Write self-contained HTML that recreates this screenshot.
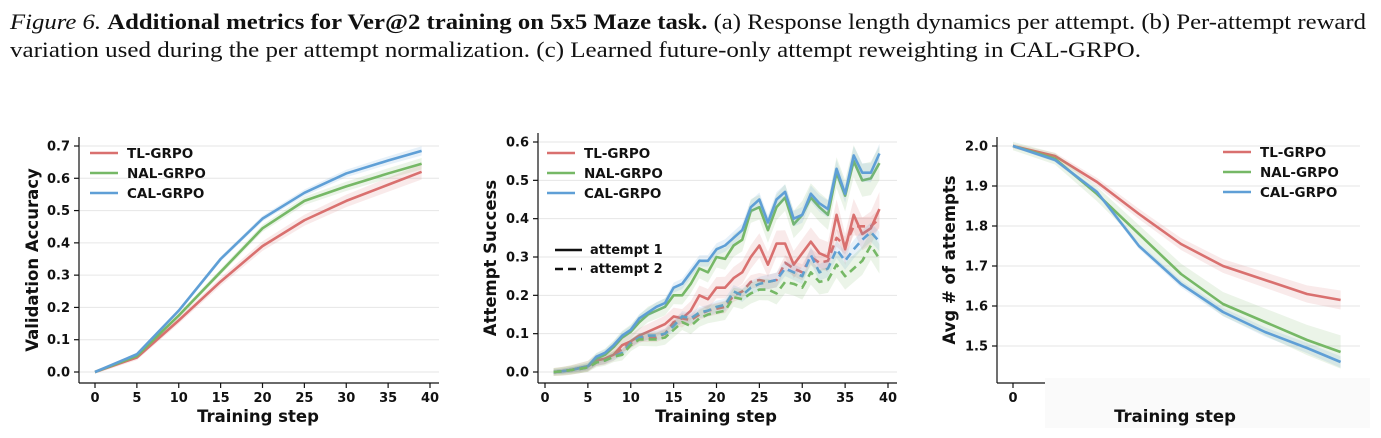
<!DOCTYPE html>
<html><head><meta charset="utf-8"><style>
body{margin:0;background:#fff;width:1381px;height:438px;overflow:hidden}
svg{display:block}
.tk{font-family:"DejaVu Sans","Liberation Sans",sans-serif;font-weight:bold;font-size:13px;fill:#111}
.lb{font-family:"DejaVu Sans","Liberation Sans",sans-serif;font-weight:bold;font-size:16.5px;fill:#111}
.lg{font-family:"DejaVu Sans","Liberation Sans",sans-serif;font-weight:bold;font-size:13.5px;fill:#111}
.cap{font-family:"Liberation Serif",serif;font-size:22px;fill:#111}
</style></head><body>
<svg id="fig" width="1381" height="438" viewBox="0 0 1381 438" xmlns="http://www.w3.org/2000/svg">
<text class="cap" x="10" y="29" textLength="1356" lengthAdjust="spacingAndGlyphs"><tspan font-style="italic">Figure 6.</tspan> <tspan font-weight="bold">Additional metrics for Ver@2 training on 5x5 Maze task.</tspan> (a) Response length dynamics per attempt. (b) Per-attempt reward</text>
<text class="cap" x="10" y="57" textLength="1131" lengthAdjust="spacingAndGlyphs">variation used during the per attempt normalization. (c) Learned future-only attempt reweighting in CAL-GRPO.</text>
<g id="g1"></g>
<g id="g2"></g>
<g id="g3"></g>
</svg>
<script>
// Chart 1 data
const steps1 = [0,5,10,15,20,25,30,35,39];
const tl1 = [0,0.045,0.16,0.28,0.39,0.47,0.53,0.58,0.62];
const nal1 = [0,0.05,0.175,0.31,0.445,0.53,0.575,0.615,0.645];
const cal1 = [0,0.055,0.19,0.35,0.475,0.555,0.615,0.655,0.685];
const yTicks1 = [0,0.1,0.2,0.3,0.4,0.5,0.6,0.7];
const xTicks = [0,5,10,15,20,25,30,35,40];
// Chart 2 data
const steps2 = [1,2,3,4,5,6,7,8,9,10,11,12,13,14,15,16,17,18,19,20,21,22,23,24,25,26,27,28,29,30,31,32,33,34,35,36,37,38,39];
const calA1 = [0,0.002,0.005,0.01,0.015,0.04,0.05,0.07,0.095,0.11,0.14,0.155,0.17,0.18,0.22,0.23,0.26,0.29,0.29,0.32,0.33,0.35,0.37,0.43,0.45,0.39,0.45,0.47,0.4,0.41,0.465,0.44,0.425,0.53,0.465,0.565,0.52,0.52,0.57];
const nalA1 = [0,0.002,0.005,0.01,0.015,0.035,0.045,0.065,0.09,0.105,0.13,0.15,0.16,0.17,0.2,0.2,0.23,0.27,0.26,0.3,0.295,0.33,0.345,0.42,0.43,0.37,0.43,0.455,0.385,0.41,0.455,0.43,0.41,0.52,0.46,0.55,0.5,0.505,0.545];
const tlA1 = [0,0.002,0.005,0.01,0.015,0.03,0.035,0.045,0.07,0.08,0.095,0.105,0.115,0.125,0.145,0.14,0.16,0.2,0.19,0.22,0.22,0.245,0.26,0.3,0.33,0.28,0.335,0.335,0.28,0.31,0.34,0.31,0.3,0.41,0.32,0.41,0.36,0.375,0.425];
const tlA2 = [0,0.002,0.005,0.008,0.012,0.025,0.03,0.045,0.06,0.075,0.09,0.09,0.09,0.1,0.13,0.14,0.135,0.15,0.16,0.165,0.17,0.2,0.21,0.235,0.24,0.235,0.24,0.285,0.27,0.26,0.3,0.285,0.29,0.35,0.33,0.38,0.38,0.38,0.4];
const calA2 = [0,0.002,0.005,0.008,0.012,0.025,0.03,0.04,0.05,0.075,0.09,0.095,0.095,0.1,0.12,0.145,0.14,0.155,0.16,0.17,0.175,0.21,0.2,0.22,0.23,0.235,0.24,0.27,0.26,0.25,0.305,0.26,0.27,0.32,0.29,0.32,0.345,0.365,0.34];
const nalA2 = [0,0.002,0.005,0.008,0.012,0.025,0.03,0.04,0.045,0.07,0.085,0.085,0.085,0.09,0.11,0.13,0.12,0.14,0.15,0.155,0.16,0.195,0.19,0.205,0.215,0.215,0.205,0.235,0.23,0.22,0.26,0.235,0.24,0.28,0.25,0.27,0.29,0.33,0.295];
const yTicks2 = [0,0.1,0.2,0.3,0.4,0.5,0.6];
// Chart 3 data
const steps3 = [0,5,10,15,20,25,30,35,39];
const tl3 = [2.0,1.975,1.91,1.83,1.755,1.70,1.665,1.63,1.615];
const nal3 = [2.0,1.968,1.88,1.78,1.68,1.605,1.56,1.515,1.485];
const cal3 = [2.0,1.965,1.885,1.75,1.655,1.585,1.535,1.495,1.46];
const yTicks3 = [1.5,1.6,1.7,1.8,1.9,2.0];
const names = ['TL-GRPO','NAL-GRPO','CAL-GRPO'];
const RED='#d9706f', GREEN='#76b866', BLUE='#5f9fd6';
const NS='http://www.w3.org/2000/svg';
function mk(parent,tag,attrs){const e=document.createElementNS(NS,tag);for(const k in attrs)e.setAttribute(k,attrs[k]);parent.appendChild(e);return e;}
function lin(d0,d1,r0,r1){return v=>r0+(v-d0)*(r1-r0)/(d1-d0);}

function axes(g,o){
  const {x,y,xl,xr,yt,yb,yTicks,xTicks,fmt,ylab,ylabX,xlab,xlabX} = o;
  yTicks.forEach(t=>{
    const gl=mk(g,'line',{x1:xl+1,x2:xr,y1:y(t),y2:y(t),stroke:'#e6e6e6','stroke-width':1});
    
    
    const tk=mk(g,'line',{x1:xl-5,x2:xl,y1:y(t),y2:y(t),stroke:'#111','stroke-width':1.2});
    
    
    const tx=mk(g,'text',{x:xl-9,y:y(t)+4.5,'text-anchor':'end',class:'tk'});tx.textContent=fmt(t);
    
    
  });
  xTicks.forEach(t=>{
    const tk=mk(g,'line',{x1:x(t),x2:x(t),y1:yb,y2:yb+5,stroke:'#111','stroke-width':1.2});
    
    
    const tx=mk(g,'text',{x:x(t),y:yb+19,'text-anchor':'middle',class:'tk'});tx.textContent=t;
    
    
  });
  const ya=mk(g,'line',{x1:xl,x2:xl,y1:yt,y2:yb,stroke:'#111','stroke-width':1.2});
  
  
  const xa=mk(g,'line',{x1:xl,x2:xr,y1:yb,y2:yb,stroke:'#111','stroke-width':1.2});
  
  
  const yl=mk(g,'text',{transform:`translate(${ylabX},${(yt+yb)/2}) rotate(-90)`,'text-anchor':'middle',class:'lb'});yl.textContent=ylab;
  
  
  if(xlab){const xt=mk(g,'text',{x:xlabX,y:yb+39,'text-anchor':'middle',class:'lb'});xt.textContent=xlab;
  
  }
}
function series(g,xs,ys,x,y,color,band,dash,nm){
  const up=xs.map((s,i)=>x(s)+','+y(ys[i]+band*(0.3+i/xs.length))).join(' ');
  const dn=xs.map((s,i)=>x(s)+','+y(ys[i]-band*(0.3+i/xs.length))).reverse().join(' ');
  const b=mk(g,'polygon',{points:up+' '+dn,fill:color,'fill-opacity':0.15});
  
  
  const p=mk(g,'polyline',{points:xs.map((s,i)=>x(s)+','+y(ys[i])).join(' '),fill:'none',stroke:color,'stroke-width':2.6,'stroke-linejoin':'round','stroke-dasharray':dash||'none'});
  
  
}
function legend(g,lx,ly){
  [RED,GREEN,BLUE].forEach((c,i)=>{
    const l=mk(g,'line',{x1:lx,x2:lx+28,y1:ly+i*20,y2:ly+i*20,stroke:c,'stroke-width':2.6});
    
    
    const t=mk(g,'text',{x:lx+37,y:ly+i*20+5,class:'lg'});t.textContent=names[i];
    
    
  });
}
// Chart 1
(function(){
  const g=document.getElementById('g1');
  const x=lin(0,40,95,430), y=lin(0,0.7,372,146);
  axes(g,{x,y,xl:79,xr:439,yt:137,yb:383,yTicks:yTicks1,xTicks,fmt:v=>v.toFixed(1),ylab:'Validation Accuracy',ylabX:38,xlab:'Training step',xlabX:258});
  series(g,steps1,tl1,x,y,RED,0.02,null,'tl-grpo');
  series(g,steps1,nal1,x,y,GREEN,0.015,null,'nal-grpo');
  series(g,steps1,cal1,x,y,BLUE,0.012,null,'cal-grpo');
  legend(g,90,153);
})();
// Chart 2
(function(){
  const g=document.getElementById('g2');
  const x=lin(0,40,545,888), y=lin(0,0.6,372,142);
  axes(g,{x,y,xl:538,xr:897,yt:133,yb:383,yTicks:yTicks2,xTicks,fmt:v=>v.toFixed(1),ylab:'Attempt Success',ylabX:496,xlab:'Training step',xlabX:716});
  series(g,steps2,tlA1,x,y,RED,0.035,null,'tl-attempt-1');
  series(g,steps2,nalA1,x,y,GREEN,0.035,null,'nal-attempt-1');
  series(g,steps2,calA1,x,y,BLUE,0.02,null,'cal-attempt-1');
  series(g,steps2,tlA2,x,y,RED,0.02,'8 5','tl-attempt-2');
  series(g,steps2,calA2,x,y,BLUE,0.02,'8 5','cal-attempt-2');
  series(g,steps2,nalA2,x,y,GREEN,0.03,'8 5','nal-attempt-2');
  legend(g,547,153);
  [['attempt 1','none',250],['attempt 2','8 5',269]].forEach(a=>{
    const l=mk(g,'line',{x1:555,x2:582,y1:a[2],y2:a[2],stroke:'#111','stroke-width':2.4,'stroke-dasharray':a[1]});
    
    
    const t=mk(g,'text',{x:590,y:a[2]+4,class:'tk','font-size':'12'});t.textContent=a[0];
    
    
  });
})();
// Chart 3
(function(){
  const g=document.getElementById('g3');
  const x=lin(0,40,1013,1349), y=lin(1.5,2.0,346,146);
  axes(g,{x,y,xl:997,xr:1360,yt:137,yb:383,yTicks:yTicks3,xTicks:[0],fmt:v=>v.toFixed(1),ylab:'Avg # of attempts',ylabX:955,xlab:null});
  series(g,steps3,tl3,x,y,RED,0.02,null,'tl-grpo');
  series(g,steps3,nal3,x,y,GREEN,0.035,null,'nal-grpo');
  series(g,steps3,cal3,x,y,BLUE,0.012,null,'cal-grpo');
  legend(g,1223,152);
  const r=mk(g,'rect',{x:1045,y:378,width:325,height:50,fill:'#fafafa'});
  
  
  const t=mk(g,'text',{x:1175,y:422,'text-anchor':'middle',class:'lb',fill:'#444'});t.textContent='Training step';
  
  
})();
</script>
</body></html>
